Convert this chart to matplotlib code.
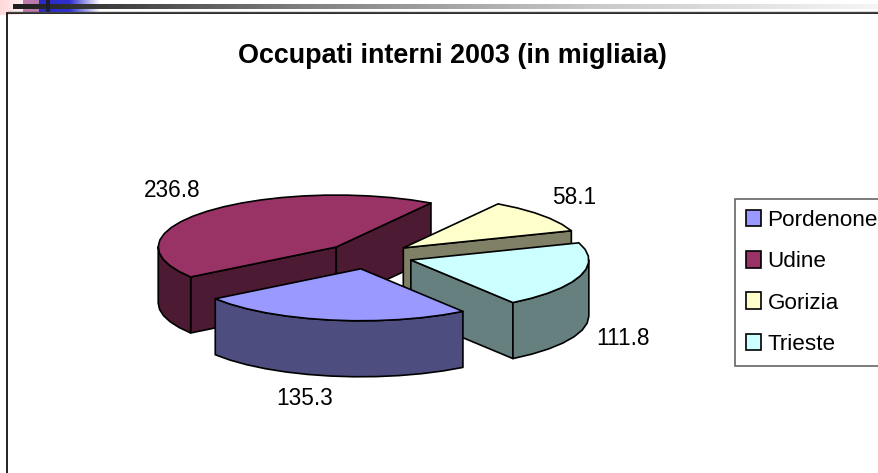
import numpy as np
import matplotlib
matplotlib.use("Agg")
import matplotlib.pyplot as plt
from matplotlib.patches import Polygon, Patch, Rectangle
from matplotlib.colors import to_rgb, LinearSegmentedColormap

plt.rcParams['font.family'] = ['Liberation Sans', 'DejaVu Sans']

title = "Occupati interni 2003 (in migliaia)"
categories = ["Pordenone", "Udine", "Gorizia", "Trieste"]
values = [135.3, 236.8, 58.1, 111.8]
colors = ["#9999FF", "#993366", "#FFFFCC", "#CCFFFF"]
label_xy = [(305, 398), (172, 190), (574, 197), (623, 338)]

W, H = 879, 473
CX, CY = 368.5, 256
RX, RY = 178, 52
DEPTH = 56
EXPLODE = 0.25
START = 55
STEP = 7.0

fig = plt.figure(figsize=(W / 100, H / 100), dpi=100)
ax = fig.add_axes([0, 0, 1, 1])
ax.set_xlim(0, W)
ax.set_ylim(H, 0)
ax.axis("off")


def grad(x0, x1, y0, y1, stops, z=1):
    cmap = LinearSegmentedColormap.from_list("g", stops)
    ax.imshow(np.linspace(0, 1, 256)[None, :], extent=(x0, x1, y1, y0), cmap=cmap,
              aspect="auto", zorder=z, interpolation="bilinear")


# slide decoration
grad(0, 23, 0, 15, ["#FFD9D9", "#FFF0F0"], 1)
grad(23, 39, 0, 12, ["#C07FB0", "#B878A8"], 1)
grad(39, 100, 0, 12, ["#2A2AC8", "#3030D0", "#FFFFFF"], 1)
grad(13, W, 4, 9, ["#1E1E1E", "#808080", "#C8C8C8", "#F5F5F5"], 2)
ax.add_patch(Rectangle((46, 0), 4, 12, color="#1E1E2E", zorder=3, lw=0))
ax.set_xlim(0, W)
ax.set_ylim(H, 0)

# chart frame
ax.plot([7.5, 7.5, W], [H, 13, 13], color="#111111", lw=1.3, zorder=3,
        solid_joinstyle="miter")
ax.plot([8, W], [12.2, 12.2], color="#444444", lw=1.0, zorder=3)


def pt(t, ox, oy):
    r = np.radians(t)
    return ox + RX * np.cos(r), oy + RY * np.sin(r)


def arc(t0, t1, ox, oy):
    n = max(2, int(abs(t1 - t0) / STEP) + 1)
    ts = np.linspace(t0, t1, n)
    x, y = pt(ts, ox, oy)
    return np.column_stack([x, y])


def darker(c):
    return tuple(v * 0.5 for v in to_rgb(c))


def wall(pts, color, z):
    pts = np.asarray(pts)
    low = pts[::-1] + [0, DEPTH]
    ax.add_patch(Polygon(np.vstack([pts, low]), closed=True, fc=darker(color),
                         ec="black", lw=1.2, zorder=z, joinstyle="round"))


total = sum(values)
spans = []
a = START
for v in values:
    spans.append((a, a + v / total * 360))
    a += v / total * 360

draw_order = [1, 2, 3, 0]
for k, i in enumerate(draw_order):
    t0, t1 = spans[i]
    mid = np.radians((t0 + t1) / 2)
    ox = CX + EXPLODE * RX * np.cos(mid)
    oy = CY + EXPLODE * RY * np.sin(mid)
    z = 5 + k
    col = colors[i]
    # cut faces turned toward the viewer
    if np.sin(np.radians(t0 - 90)) > 0:
        wall([(ox, oy), pt(t0, ox, oy)], col, z)
    if np.sin(np.radians(t1 + 90)) > 0:
        wall([(ox, oy), pt(t1, ox, oy)], col, z)
    # outer rim where it faces the viewer
    for base in (0, 360):
        lo, hi = max(t0, base), min(t1, base + 180)
        if hi > lo:
            wall(arc(lo, hi, ox, oy), col, z)
    top = np.vstack([[ox, oy], arc(t0, t1, ox, oy)])
    ax.add_patch(Polygon(top, closed=True, fc=col, ec="black", lw=1.2,
                         zorder=z + 0.5, joinstyle="round"))

for v, (x, y) in zip(values, label_xy):
    ax.text(x, y, f"{v:.1f}", ha="center", va="center", fontsize=16.3,
            color="black", zorder=20)

ax.text(452, 56, title, ha="center", va="center", fontsize=19.4, fontweight="bold",
        color="black", zorder=20)

handles = [Patch(fc=c, ec="black", lw=1.2) for c in colors]
leg = ax.legend(handles, categories, loc="upper left",
                bbox_to_anchor=(735, 199), bbox_transform=ax.transData,
                fontsize=16.2, frameon=True, fancybox=False, framealpha=1,
                edgecolor="#666666", borderaxespad=0, borderpad=0.48,
                handlelength=0.66, handleheight=0.75, handletextpad=0.31,
                labelspacing=0.9)
leg.set_zorder(20)
leg.get_frame().set_linewidth(1.2)

fig.savefig("out.png", dpi=100)
